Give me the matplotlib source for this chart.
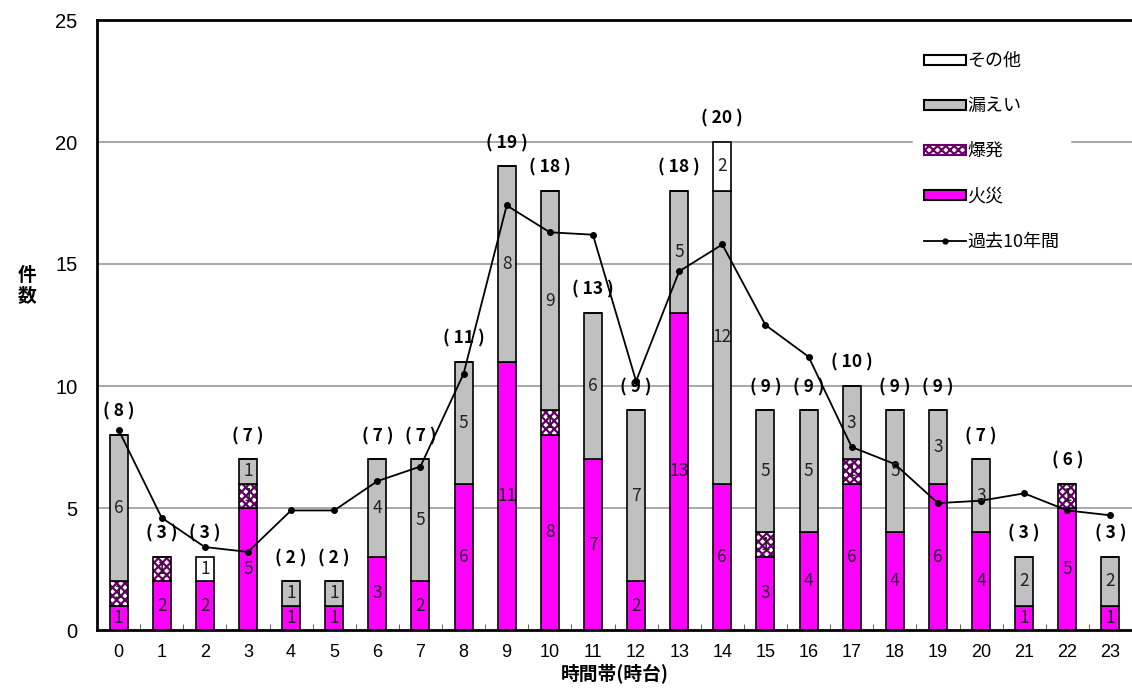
import numpy as np
import matplotlib.pyplot as plt
from matplotlib.lines import Line2D
from matplotlib.patches import Patch

plt.rcParams['font.family'] = ['Noto Sans CJK JP', 'DejaVu Sans']
plt.rcParams['hatch.linewidth'] = 1.6

hours = list(range(24))
fire      = [1, 2, 2, 5, 1, 1, 3, 2, 6, 11, 8, 7, 2, 13, 6, 3, 4, 6, 4, 6, 4, 1, 5, 1]
explosion = [1, 1, 0, 1, 0, 0, 0, 0, 0, 0, 1, 0, 0, 0, 0, 1, 0, 1, 0, 0, 0, 0, 1, 0]
leak      = [6, 0, 0, 1, 1, 1, 4, 5, 5, 8, 9, 6, 7, 5, 12, 5, 5, 3, 5, 3, 3, 2, 0, 2]
other     = [0, 0, 1, 0, 0, 0, 0, 0, 0, 0, 0, 0, 0, 0, 2, 0, 0, 0, 0, 0, 0, 0, 0, 0]
past10 = [8.2, 4.6, 3.4, 3.2, 4.9, 4.9, 6.1, 6.7, 10.5, 17.4, 16.3, 16.2,
          10.2, 14.7, 15.8, 12.5, 11.2, 7.5, 6.8, 5.2, 5.3, 5.6, 4.9, 4.7]

x = np.array(hours)
w = 0.42

fig = plt.figure(figsize=(11.32, 6.95), dpi=100)
ax = fig.add_axes([97/1132, 65/695, 1 - 97/1132, 610/695])

bottom = np.zeros(24)
series = [(fire, '#ff00ff', None, '#000000'),
          (explosion, 'white', 'xxxx', '#660066'),
          (leak, '#c0c0c0', None, '#000000'),
          (other, 'white', None, '#000000')]
for vals, fc, hatch, ec in series:
    vals = np.array(vals)
    if hatch:
        ax.bar(x, vals, w, bottom=bottom, color=fc, hatch=hatch, edgecolor=ec, linewidth=0, zorder=2)
        ax.bar(x, vals, w, bottom=bottom, fill=False, edgecolor='black', linewidth=1.2, zorder=2)
    else:
        ax.bar(x, vals, w, bottom=bottom, color=fc, edgecolor='black', linewidth=1.2, zorder=2)
    for xi, v, b in zip(x, vals, bottom):
        if v > 0:
            ax.text(xi, b + v / 2, str(v), ha='center', va='center', fontsize=12.5,
                    color='#222222', zorder=4)
    bottom = bottom + vals

for xi, t in zip(x, bottom):
    ax.text(xi, t + 0.95, '( %d )' % t, ha='center', va='center', fontsize=12.5,
            fontweight='bold', zorder=4)

ax.plot(x, past10, color='black', marker='o', markersize=4, linewidth=1.3, zorder=3)

ax.set_xlim(-0.5, 23.3)
ax.set_ylim(0, 25)
ax.set_yticks([0, 5, 10, 15, 20, 25])
ax.set_xticks(x)
ax.set_xticks(x + 0.5, minor=True)
ax.tick_params(axis='x', which='major', length=0, labelsize=13, pad=10)
ax.tick_params(axis='x', which='minor', direction='in', length=4, color='#444444')
ax.tick_params(axis='y', length=0, labelsize=14.5, pad=14)
for lab in ax.get_xticklabels() + ax.get_yticklabels():
    lab.set_family('Liberation Sans')
for yv in [5, 10, 15, 20]:
    ax.axhline(yv, color='#999999', linewidth=1.2, zorder=1)
for s in ['left', 'bottom', 'top']:
    ax.spines[s].set_linewidth(2)
ax.spines['right'].set_visible(False)

ax.set_xlabel('時間帯(時台)', fontsize=13.5, fontweight='bold', labelpad=2)
ax.set_ylabel('件\n数', fontsize=13.5, fontweight='bold', rotation=0, va='center',
              linespacing=1.1)
ax.yaxis.set_label_coords(-0.068, 0.565)

handles = [Patch(facecolor='white', edgecolor='black', linewidth=1.5),
           Patch(facecolor='#c0c0c0', edgecolor='black', linewidth=1.5),
           Patch(facecolor='white', edgecolor='#660066', hatch='xxxx', linewidth=1.5),
           Patch(facecolor='#ff00ff', edgecolor='black', linewidth=1.5),
           Line2D([0], [0], color='black', marker='o', markersize=3.5, linewidth=1.3)]
labels = ['その他', '漏えい', '爆発', '火災', '過去10年間']
leg = ax.legend(handles, labels, loc='upper left', bbox_to_anchor=(0.78, 0.98),
                frameon=True, fontsize=13, labelspacing=1.5, handlelength=2.3,
                handleheight=0.5, handletextpad=0.1, borderpad=0.6)
leg.get_frame().set_edgecolor('white')
leg.get_frame().set_facecolor('white')
leg.get_frame().set_alpha(1)
leg.set_zorder(5)

fig.savefig('out.png', dpi=100)
